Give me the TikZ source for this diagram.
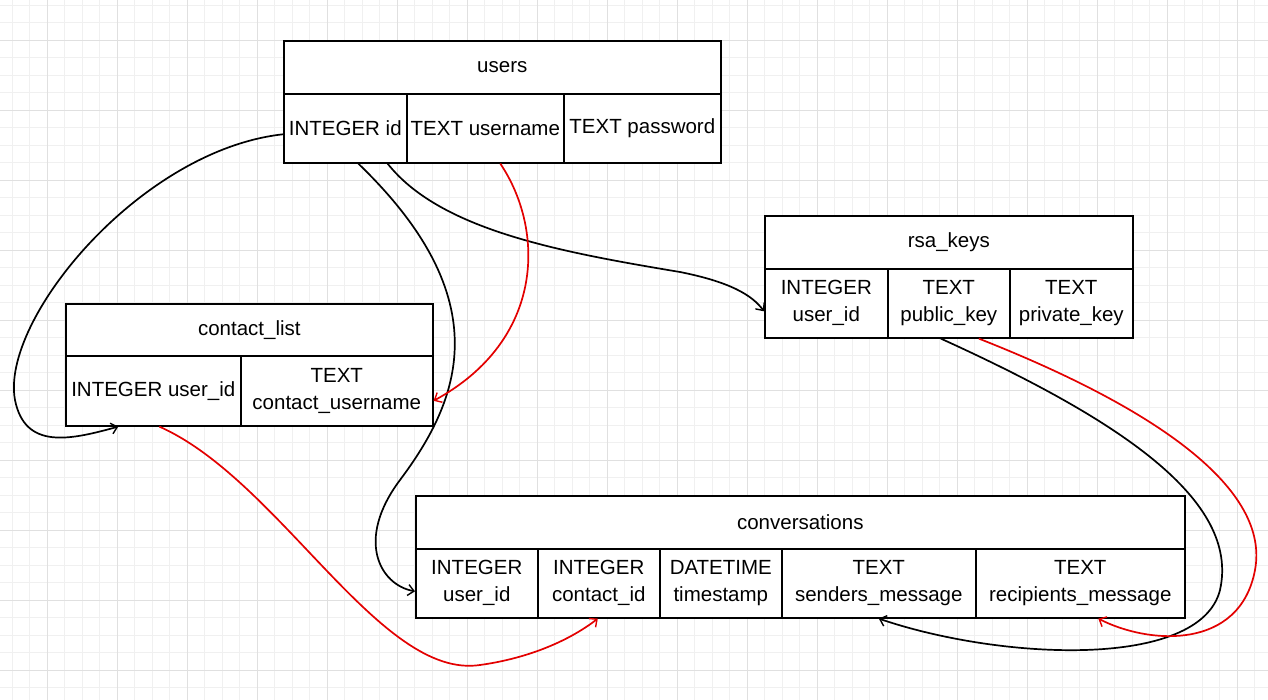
\documentclass[tikz,border=0pt]{standalone}
\usepackage{fontspec}
\setmainfont{Liberation Sans}
\usetikzlibrary{arrows.meta}
\definecolor{gminor}{HTML}{F0F0F0}
\definecolor{gmajor}{HTML}{E0E0E0}
\definecolor{fkred}{HTML}{E30000}
\begin{document}
\begin{tikzpicture}[x=1pt,y=-1pt,
  cell/.style={draw=black, line width=1.6pt, fill=white, inner sep=0pt, align=center, anchor=north west,
    font=\fontsize{20.5}{27}\selectfont},
  link/.style={line width=1.7pt, -{Straight Barb[length=6pt,width=11pt,line width=1.4pt]}},
  blk/.style={link, draw=black},
  rd/.style={link, draw=fkred}]
\useasboundingbox (0,0) rectangle (1268,700);
\fill[white] (0,0) rectangle (1268,700);
% grid
\foreach \x in {12,29.5,...,1268} \draw[gminor, line width=0.8pt] (\x,0) -- (\x,700);
\foreach \y in {5,22.5,...,700} \draw[gminor, line width=0.8pt] (0,\y) -- (1268,\y);
\foreach \x in {47,117,...,1268} \draw[gmajor, line width=0.8pt] (\x,0) -- (\x,700);
\foreach \y in {40,110,...,700} \draw[gmajor, line width=0.8pt] (0,\y) -- (1268,\y);

% users
\node[cell, minimum width=437, minimum height=53] (users) at (283,40) {users};
\node[cell, minimum width=123, minimum height=69] (uid) at (283,93) {INTEGER id};
\node[cell, minimum width=157, minimum height=69] (uname) at (406,93) {TEXT username};
\node[cell, minimum width=157, minimum height=69] (upass) at (563,93) {TEXT password};

% rsa_keys
\node[cell, minimum width=368, minimum height=53] (rsa) at (764,215) {rsa\_keys};
\node[cell, minimum width=123, minimum height=69] (ruid) at (764,268) {INTEGER\\user\_id};
\node[cell, minimum width=122, minimum height=69] (rpub) at (887,268) {TEXT\\public\_key};
\node[cell, minimum width=123, minimum height=69] (rpriv) at (1009,268) {TEXT\\private\_key};

% contact_list
\node[cell, minimum width=367, minimum height=52] (cl) at (65,303) {contact\_list};
\node[cell, minimum width=175, minimum height=70] (cluid) at (65,355) {INTEGER user\_id};
\node[cell, minimum width=192, minimum height=70] (clname) at (240,355) {TEXT\\contact\_username};

% conversations
\node[cell, minimum width=769, minimum height=53] (conv) at (415,495) {conversations};
\node[cell, minimum width=122, minimum height=69] (cuid) at (415,548) {INTEGER\\user\_id};
\node[cell, minimum width=122, minimum height=69] (ccid) at (537,548) {INTEGER\\contact\_id};
\node[cell, minimum width=122, minimum height=69] (cts) at (659,548) {DATETIME\\timestamp};
\node[cell, minimum width=194, minimum height=69] (csend) at (781,548) {TEXT\\senders\_message};
\node[cell, minimum width=209, minimum height=69] (crec) at (975,548) {TEXT\\recipients\_message};

% anchor points on the cells
\coordinate (a1) at ([yshift=-6pt]uid.west);
\coordinate (b1) at ([xshift=-35pt]cluid.south);
\coordinate (a2) at ([xshift=13pt]uid.south);
\coordinate (b2) at ([yshift=-8pt]cuid.west);
\coordinate (a3) at ([xshift=-20pt]uid.south east);
\coordinate (b3) at ([yshift=-8pt]ruid.west);
\coordinate (a4) at ([xshift=15pt]uname.south);
\coordinate (b4) at ([yshift=-10pt]clname.east);
\coordinate (a5) at ([xshift=6pt]cluid.south);
\coordinate (b5) at ([xshift=-1pt]ccid.south);
\coordinate (a6) at ([xshift=-8pt]rpub.south);
\coordinate (b6) at ([xshift=0pt]csend.south);
\coordinate (a7) at ([xshift=30pt]rpub.south);
\coordinate (b7) at ([xshift=18pt]crec.south);

% connectors
\draw[blk] (a1) .. controls (140,150) and (0,320) .. (15,400)
           .. controls (25,450) and (70,440) .. (b1);
\draw[blk] (a2) .. controls (500,300) and (460,400) .. (400,480)
           .. controls (355,540) and (380,585) .. (b2);
\draw[blk] (a3) .. controls (440,230) and (560,252) .. (680,272)
           .. controls (730,282) and (752,295) .. (b3);
\draw[rd] (a4) .. controls (545,230) and (545,340) .. (b4);
\draw[rd] (a5) .. controls (280,480) and (380,680) .. (480,665)
          .. controls (530,658) and (570,640) .. (b5);
\draw[blk] (a6) .. controls (1120,420) and (1240,500) .. (1220,590)
           .. controls (1200,670) and (1000,660) .. (b6);
\draw[rd] (a7) .. controls (1160,410) and (1270,490) .. (1255,570)
          .. controls (1240,650) and (1150,645) .. (b7);
\end{tikzpicture}
\end{document}
